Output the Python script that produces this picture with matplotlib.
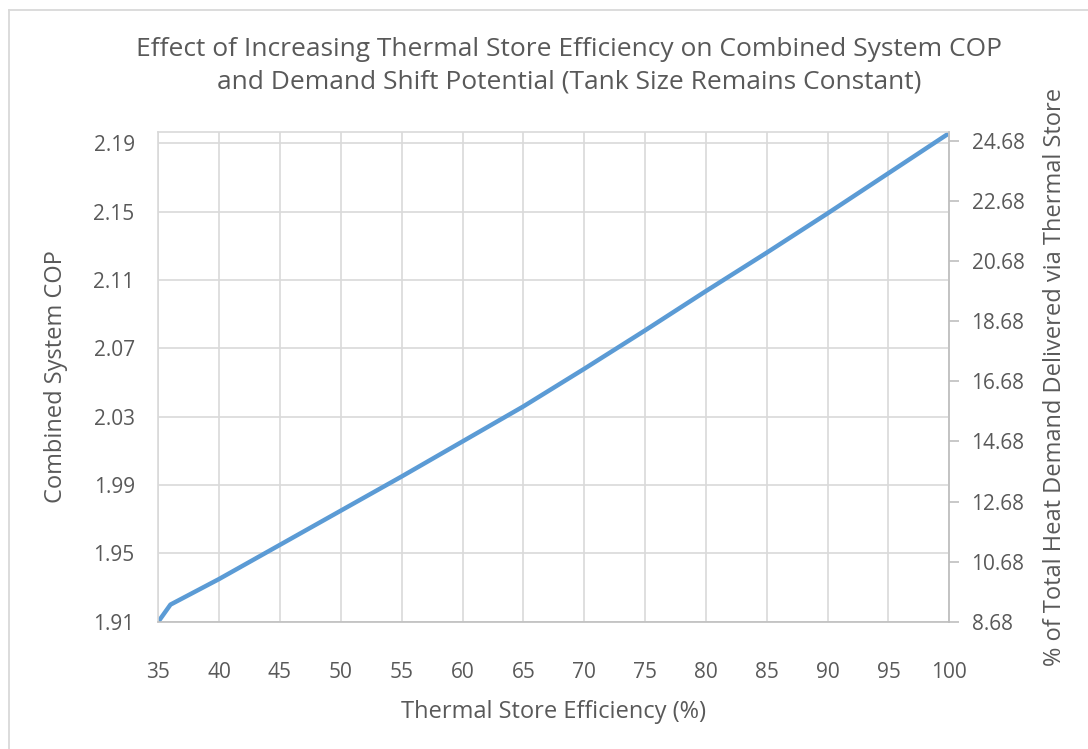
import numpy as np
import matplotlib.pyplot as plt
from matplotlib.lines import Line2D

plt.rcParams['font.family'] = ['Open Sans', 'DejaVu Sans']

# thermal store efficiency (%) and resulting combined system COP
efficiency = [35, 36, 40, 45, 50, 55, 60, 65, 70, 75, 80, 85, 90, 95, 100]
cop = [1.910, 1.920, 1.935, 1.955, 1.975, 1.995, 2.0155, 2.036, 2.058,
       2.0805, 2.1035, 2.126, 2.149, 2.1725, 2.196]

x_ticks = list(range(35, 101, 5))
cop_ticks = [1.91, 1.95, 1.99, 2.03, 2.07, 2.11, 2.15, 2.19]
share_ticks = [8.68, 10.68, 12.68, 14.68, 16.68, 18.68, 20.68, 22.68, 24.68]

text_c = '#595959'
grid_c = '#D9D9D9'
axis_c = '#BFBFBF'
line_c = '#5B9BD5'

W, H = 1088, 749
fig = plt.figure(figsize=(W / 100, H / 100), dpi=100)

# chart area border (only top and left edges fall inside the image)
fx, fy = 8.5 / W, 1 - 9.5 / H
fig.add_artist(Line2D([fx, 1.01], [fy, fy], transform=fig.transFigure,
                      color=grid_c, linewidth=1.3))
fig.add_artist(Line2D([fx, fx], [-0.01, fy], transform=fig.transFigure,
                      color=grid_c, linewidth=1.3))

ax = fig.add_axes([158.3 / W, 1 - 621.7 / H, (949.3 - 158.3) / W, (621.7 - 131.7) / H])
ax.plot(efficiency, cop, color=line_c, linewidth=3.2, solid_joinstyle='round')
ax.set_xlim(35, 100)
ax.set_ylim(1.91, 2.1968)
ax.set_xticks(x_ticks)
ax.set_yticks(cop_ticks)
ax.set_yticklabels([f'{v:.2f}' for v in cop_ticks])
ax.grid(True, color=grid_c, linewidth=1.2)
ax.set_axisbelow(True)
ax.tick_params(length=0, labelsize=15, colors=text_c)
ax.tick_params(axis='x', pad=29)
ax.tick_params(axis='y', pad=17)
for s in ax.spines.values():
    s.set_color(grid_c)
    s.set_linewidth(1.2)
ax.spines['bottom'].set_color(axis_c)
ax.set_xlabel('Thermal Store Efficiency (%)', fontsize=17, color=text_c, labelpad=12)
ax.set_ylabel('Combined System COP', fontsize=17, color=text_c, labelpad=18)

ax2 = ax.twinx()
ax2.set_ylim(8.68, 24.99)
ax2.set_yticks(share_ticks)
ax2.set_yticklabels([f'{v:.2f}' for v in share_ticks])
ax2.tick_params(axis='y', length=7, width=1.2, labelsize=15, colors=text_c, pad=9)
ax2.tick_params(axis='y', color=axis_c)
for s in ax2.spines.values():
    s.set_visible(False)
ax2.spines['right'].set_visible(True)
ax2.spines['right'].set_color(axis_c)
ax2.spines['right'].set_linewidth(1.2)
ax2.set_ylabel('% of Total Heat Demand Delivered via Thermal Store', fontsize=17,
               color=text_c, labelpad=13)

fig.text(0.523, 0.912, 'Effect of Increasing Thermal Store Efficiency on Combined System COP\n'
         'and Demand Shift Potential (Tank Size Remains Constant)',
         ha='center', va='center', fontsize=19, color=text_c, linespacing=1.42)

fig.savefig('out.png', dpi=100)
